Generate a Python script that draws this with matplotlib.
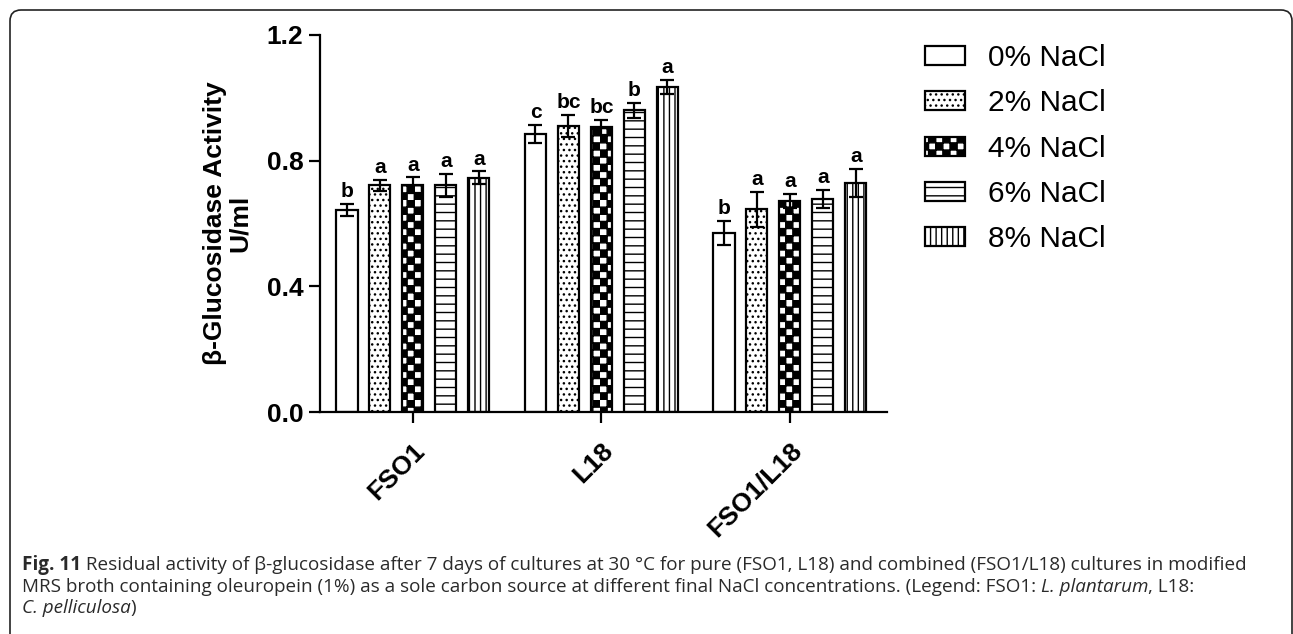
import warnings
import numpy as np
import matplotlib
matplotlib.use("Agg")
import matplotlib.pyplot as plt
import matplotlib.hatch as mhatch
from matplotlib.path import Path
from matplotlib.patches import FancyBboxPatch

warnings.filterwarnings("ignore")

# ---- data ----
strains = ["FSO1", "L18", "FSO1/L18"]
nacl_levels = ["0% NaCl", "2% NaCl", "4% NaCl", "6% NaCl", "8% NaCl"]

activity_0 = [0.643, 0.886, 0.570]
activity_2 = [0.722, 0.910, 0.645]
activity_4 = [0.722, 0.906, 0.672]
activity_6 = [0.722, 0.961, 0.677]
activity_8 = [0.746, 1.034, 0.728]

sd_0 = [0.020, 0.029, 0.039]
sd_2 = [0.017, 0.036, 0.056]
sd_4 = [0.025, 0.024, 0.023]
sd_6 = [0.037, 0.024, 0.029]
sd_8 = [0.020, 0.022, 0.045]

letters_0 = ["b", "c", "b"]
letters_2 = ["a", "bc", "a"]
letters_4 = ["a", "bc", "a"]
letters_6 = ["a", "b", "a"]
letters_8 = ["a", "a", "a"]

yticks = [0.0, 0.4, 0.8, 1.2]


# checkerboard hatch ('c'), matplotlib has none built in
class CheckerHatch(mhatch.HatchPatternBase):
    def __init__(self, hatch, density):
        self.n = hatch.count("c") * 7
        self.num_vertices = (self.n * self.n // 2) * 5 if self.n else 0

    def set_vertices_and_codes(self, vertices, codes):
        s = 1.0 / self.n
        sq = np.array([[0, 0], [s, 0], [s, s], [0, s], [0, 0]])
        parts = [sq + [i * s, j * s] for i in range(self.n)
                 for j in range(self.n) if (i + j) % 2 == 0]
        vertices[:] = np.concatenate(parts)
        codes[:] = np.tile([Path.MOVETO, Path.LINETO, Path.LINETO,
                            Path.LINETO, Path.CLOSEPOLY], len(parts))


mhatch._hatch_types.append(CheckerHatch)

plt.rcParams["font.family"] = ["Liberation Sans", "DejaVu Sans"]
plt.rcParams["hatch.linewidth"] = 1.0

W, H = 1293, 634
fig = plt.figure(figsize=(W / 100, H / 100), dpi=100)

# background: rounded frame + caption, in pixel coordinates
bg = fig.add_axes([0, 0, 1, 1])
bg.set_xlim(0, W)
bg.set_ylim(H, 0)
bg.axis("off")
bg.add_patch(FancyBboxPatch((10, 10), 1282, 700,
                            boxstyle="round,pad=0,rounding_size=11",
                            fc="white", ec="#222222", lw=1.2))

ax = fig.add_axes([320 / W, 1 - 412 / H, 567 / W, 377 / H])

values = [activity_0, activity_2, activity_4, activity_6, activity_8]
errors = [sd_0, sd_2, sd_4, sd_6, sd_8]
letters = [letters_0, letters_2, letters_4, letters_6, letters_8]
hatches = ["", "...", "cc", "--", "|||"]

x = np.arange(len(strains))
step = 0.175
width = 0.112
for k in range(len(nacl_levels)):
    xs = x + (k - 2) * step
    ax.bar(xs, values[k], width, color="white", edgecolor="black",
           linewidth=1.6, hatch=hatches[k], label=nacl_levels[k], zorder=2)
    ax.errorbar(xs, values[k], yerr=errors[k], fmt="none", ecolor="black",
                elinewidth=1.6, capsize=5, capthick=1.6, zorder=3)
    for xi, v, e, t in zip(xs, values[k], errors[k], letters[k]):
        ax.annotate(t, (xi, v + e), xytext=(0, 2), textcoords="offset points",
                    ha="center", va="bottom", fontsize=15, fontweight="bold")

ax.set_xlim(-0.493, 2.515)
ax.set_ylim(0, 1.2)
ax.set_yticks(yticks)
ax.set_yticklabels([f"{t:.1f}" for t in yticks], fontsize=19, fontweight="bold")
ax.set_xticks(x)
ax.set_xticklabels(strains, fontsize=19, fontweight="bold", rotation=45,
                   ha="right", va="top", rotation_mode="anchor")
ax.tick_params(width=1.6, length=8, pad=4)
ax.tick_params(axis="x", pad=11)
for side in ["top", "right"]:
    ax.spines[side].set_visible(False)
for side in ["left", "bottom"]:
    ax.spines[side].set_linewidth(1.6)
ax.set_ylabel("\u03b2-Glucosidase Activity\nU/ml", fontsize=19,
              fontweight="bold", linespacing=1.05)
ax.yaxis.set_label_coords(-0.12, 0.5)

leg = fig.legend(*ax.get_legend_handles_labels(), loc="upper left",
                 bbox_to_anchor=(925 / W, 1 - 44 / H),
                 frameon=False, fontsize=21.5, handlelength=1.34,
                 handleheight=0.6, handletextpad=0.77, labelspacing=0.58,
                 borderaxespad=0, borderpad=0)

# caption with mixed bold / italic runs
cap_font = ["Open Sans", "DejaVu Sans"]
cap_lines = [
    [("Fig. 11", "bold", "normal"),
     (" Residual activity of \u03b2-glucosidase after 7 days of cultures at 30 \u00b0C for pure (FSO1, L18) and combined (FSO1/L18) cultures in modified", "normal", "normal")],
    [("MRS broth containing oleuropein (1%) as a sole carbon source at different final NaCl concentrations. (Legend: FSO1: ", "normal", "normal"),
     ("L. plantarum", "normal", "italic"),
     (", L18:", "normal", "normal")],
    [("C. pelliculosa", "normal", "italic"), (")", "normal", "normal")],
]
renderer = fig.canvas.get_renderer()

# fit the font size so the first caption line spans the same width
probe = 0
for txt, wt, st in cap_lines[0]:
    t = bg.text(0, 0, txt, fontsize=12, fontweight=wt, fontstyle=st,
                family=cap_font)
    probe += t.get_window_extent(renderer).width
    t.remove()
cap_size = 12 * (1245 - 22) / probe

for i, runs in enumerate(cap_lines):
    xpos = 22
    ypos = 565 + i * 21.5
    for txt, wt, st in runs:
        t = bg.text(xpos, ypos, txt, fontsize=cap_size, fontweight=wt,
                    fontstyle=st, family=cap_font, color="#2a2a2a",
                    va="center", ha="left")
        xpos += t.get_window_extent(renderer).width

fig.savefig("out.png", dpi=100)
